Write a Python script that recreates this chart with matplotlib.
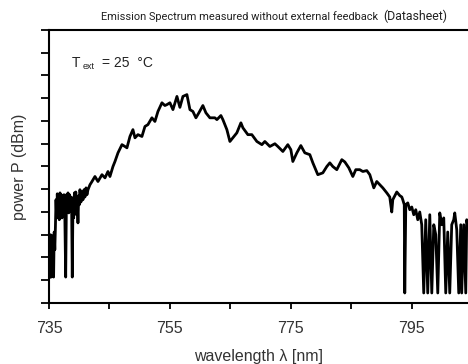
import matplotlib
matplotlib.use("Agg")
import matplotlib.pyplot as plt
from matplotlib.patches import Rectangle

# wavelength (nm) and power (dBm)
wavelength = [
    735.00, 735.08, 735.17, 735.26, 735.36, 735.46, 735.56, 735.66, 735.76, 735.86,
    735.96, 736.06, 736.16, 736.27, 736.37, 736.49, 736.60, 736.70, 736.82, 736.93,
    737.03, 737.15, 737.26, 737.38, 737.48, 737.61, 737.76, 737.89, 738.01, 738.14,
    738.27, 738.39, 738.52, 738.64, 738.74, 738.85, 738.97, 739.08, 739.20, 739.31,
    739.43, 739.55, 739.66, 739.79, 739.91, 740.02, 740.12, 740.29, 740.45, 740.62,
    740.79, 740.95, 741.12, 741.28, 741.45, 741.78, 742.11, 742.60, 743.10, 743.76,
    744.26, 744.75, 745.08, 745.58, 745.91, 746.41, 747.07, 747.56, 747.89, 748.39,
    748.88, 749.22, 749.71, 750.37, 750.87, 751.36, 752.02, 752.52, 753.02, 753.68,
    754.17, 754.50, 755.00, 755.50, 756.16, 756.65, 757.15, 757.81, 758.31, 758.80,
    759.30, 759.79, 760.45, 760.95, 761.61, 762.44, 762.77, 763.43, 763.76, 764.42,
    764.92, 765.41, 766.07, 766.74, 767.07, 767.89, 768.55, 769.38, 770.21, 770.70,
    771.53, 772.36, 772.85, 773.68, 774.50, 775.00, 775.33, 775.99, 776.65, 777.31,
    778.14, 778.64, 779.46, 780.29, 780.95, 781.45, 781.94, 782.60, 783.43, 783.93,
    784.59, 785.25, 785.74, 786.40, 786.90, 787.56, 788.06, 788.72, 789.21, 789.71,
    790.21, 790.87, 791.36, 791.69, 791.86, 792.52, 793.02, 793.35, 793.51, 793.76,
    793.84, 794.01, 794.34, 794.67, 795.00, 795.33, 795.66, 795.99, 796.32, 796.65,
    796.98, 797.31, 797.64, 797.98, 798.31, 798.64, 798.97, 799.30, 799.63, 799.96,
    800.29, 800.62, 800.95, 801.28, 801.61, 801.94, 802.11, 802.44, 802.77, 803.10,
    803.26, 803.60, 803.93, 804.09, 804.26,
]
power = [
    -54.3, -45.7, -54.3, -45.0, -54.3, -46.1, -53.2, -45.2, -54.3, -44.4,
    -48.3, -43.3, -37.3, -41.3, -36.0, -40.4, -36.4, -41.7, -35.8, -39.5,
    -36.2, -41.3, -36.7, -38.4, -36.2, -40.0, -54.3, -36.2, -40.0, -35.8,
    -40.2, -36.2, -39.1, -36.7, -38.4, -54.3, -36.9, -41.3, -35.8, -39.5,
    -35.6, -40.6, -36.9, -42.4, -36.4, -38.4, -35.1, -37.8, -35.6, -37.3,
    -35.1, -36.7, -34.7, -36.2, -35.1, -34.0, -33.3, -32.2, -33.3, -31.8,
    -32.5, -31.1, -32.2, -30.0, -28.9, -27.0, -25.2, -25.6, -25.9, -23.4,
    -21.9, -23.7, -23.0, -23.4, -21.2, -20.8, -19.3, -20.1, -17.9, -16.0,
    -16.6, -16.4, -16.0, -17.5, -14.6, -17.0, -14.6, -14.2, -17.5, -17.9,
    -19.3, -18.2, -16.6, -18.2, -19.3, -19.3, -19.7, -18.8, -19.7, -21.9,
    -24.5, -23.7, -22.6, -20.4, -21.5, -23.0, -23.0, -24.5, -25.2, -24.5,
    -25.6, -25.0, -25.6, -26.7, -25.2, -26.3, -28.9, -27.0, -25.4, -27.0,
    -27.4, -29.2, -31.8, -31.4, -30.0, -29.2, -30.0, -30.7, -28.5, -29.0,
    -30.3, -32.2, -30.7, -30.7, -31.1, -30.9, -31.8, -34.7, -33.3, -34.0,
    -34.7, -35.8, -36.7, -40.0, -37.3, -35.6, -36.4, -36.7, -37.3, -38.4,
    -57.8, -38.4, -38.0, -39.5, -38.9, -40.6, -39.5, -41.7, -40.0, -42.8,
    -57.8, -41.7, -57.8, -40.6, -57.8, -42.8, -45.0, -57.8, -40.2, -42.8,
    -41.3, -57.8, -44.4, -57.8, -42.8, -41.7, -40.2, -43.9, -57.8, -42.8,
    -57.8, -42.8, -57.8, -41.7, -43.0,
]

x_ticks = [735, 745, 755, 765, 775, 785, 795]
x_labels = ["735", "", "755", "", "775", "", "795"]
y_ticks = list(range(-60, 1, 5))

fig = plt.figure(figsize=(4.68, 3.64), dpi=100)
ax = fig.add_axes([0.1047, 0.1676, 0.8953, 0.75])

ax.plot(wavelength, power, color="black", linewidth=2.0)

ax.set_xlim(735, 804.3)
ax.set_ylim(-60, 0)
ax.set_xticks(x_ticks)
ax.set_xticklabels(x_labels, fontfamily="Liberation Sans", fontsize=11.5, color="#333333")
ax.set_yticks(y_ticks)
ax.set_yticklabels([])
ax.tick_params(axis="x", direction="out", length=4, width=1.3, pad=9)
ax.tick_params(axis="y", direction="out", length=6, width=1.3)
ax.spines["right"].set_visible(False)
for side in ["left", "bottom", "top"]:
    ax.spines[side].set_linewidth(1.5)

ax.set_xlabel("wavelength λ [nm]", fontfamily="Liberation Sans", fontsize=11.5,
              color="#333333", labelpad=9)
ax.set_ylabel("power P (dBm)", fontfamily="Liberation Sans", fontsize=11.5,
              color="#333333", labelpad=6)

# annotation T_ext = 25 °C
fig.text(72 / 468, 1 - 67 / 364, "T", fontfamily="Liberation Sans", fontsize=10, color="#222222")
fig.text(83 / 468, 1 - 69 / 364, "ext", fontfamily="Liberation Sans", fontsize=6.5, color="#222222")
fig.text(102 / 468, 1 - 67 / 364, "= 25  °C", fontfamily="Liberation Sans", fontsize=10, color="#222222")

# title, squeezed to the width it has in the source
title = fig.text(101 / 468, 1 - 20 / 364, "Emission Spectrum measured without external feedback",
                 fontfamily="Roboto", fontsize=10, color="#222222")
sub = fig.text(383 / 468, 1 - 20 / 364, "(Datasheet)",
               fontfamily="Roboto", fontsize=8, color="#222222")
fig.canvas.draw()
w = title.get_window_extent().width
title.set_fontsize(10 * 277 / w)
w = sub.get_window_extent().width
sub.set_fontsize(8 * 65 / w)

# the left edge of the first tick label is cut in the source image
fig.patches.append(Rectangle((0, 1 - 342 / 364), 38 / 468, 30 / 364,
                             transform=fig.transFigure, facecolor="white",
                             edgecolor="none", zorder=10))

fig.savefig("out.png", dpi=100)
